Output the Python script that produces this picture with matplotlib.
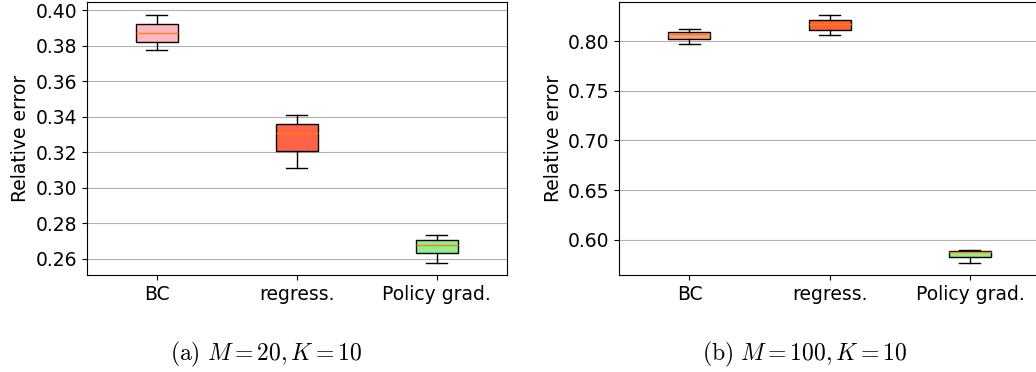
import matplotlib
matplotlib.use("Agg")
import matplotlib.pyplot as plt

methods = ["BC", "regress.", "Policy grad."]

# panel (a): M = 20, K = 10
a_lo = [0.3775, 0.3109, 0.2578]
a_q1 = [0.3822, 0.3209, 0.2632]
a_med = [0.3875, 0.3310, 0.2679]
a_q3 = [0.3923, 0.3357, 0.2707]
a_hi = [0.3976, 0.3410, 0.2733]
a_colors = ["#FFB6C1", "#FF6347", "#90EE90"]
a_ticks = [0.26, 0.28, 0.30, 0.32, 0.34, 0.36, 0.38, 0.40]

# panel (b): M = 100, K = 10
b_lo = [0.7974, 0.8060, 0.5770]
b_q1 = [0.8024, 0.8114, 0.5830]
b_med = [0.8067, 0.8168, 0.5872]
b_q3 = [0.8094, 0.8208, 0.5883]
b_hi = [0.8124, 0.8265, 0.5896]
b_colors = ["#FFA07A", "#FF6233", "#90EE90"]
b_ticks = [0.60, 0.65, 0.70, 0.75, 0.80]

captions = [r"$\mathrm{(a)}\ M = 20, K = 10$", r"$\mathrm{(b)}\ M = 100, K = 10$"]

plt.rcParams["font.size"] = 13.5
plt.rcParams["mathtext.fontset"] = "cm"


def make_stats(lo, q1, med, q3, hi):
    return [dict(whislo=lo[i], q1=q1[i], med=med[i], q3=q3[i], whishi=hi[i],
                 fliers=[], label=methods[i]) for i in range(len(methods))]


def draw_panel(ax, stats, colors, ticks):
    bp = ax.bxp(stats, widths=0.3, patch_artist=True, showfliers=False)
    for box, c in zip(bp["boxes"], colors):
        box.set_facecolor(c)
        box.set_edgecolor("black")
    for m in bp["medians"]:
        m.set_color("#ff7f0e")
    ax.set_yticks(ticks)
    ax.yaxis.grid(True, color="#b0b0b0", linewidth=0.8)
    ax.set_axisbelow(True)
    ax.set_ylabel("Relative error")


fig = plt.figure(figsize=(10.36, 3.72), dpi=100)
ax1 = fig.add_axes([0.0837, 0.2608, 0.4054, 0.733])
ax2 = fig.add_axes([0.5978, 0.2608, 0.4061, 0.733])

draw_panel(ax1, make_stats(a_lo, a_q1, a_med, a_q3, a_hi), a_colors, a_ticks)
draw_panel(ax2, make_stats(b_lo, b_q1, b_med, b_q3, b_hi), b_colors, b_ticks)

fig.text(0.257, 0.046, captions[0], ha="center", va="center", fontsize=17)
fig.text(0.777, 0.046, captions[1], ha="center", va="center", fontsize=17)

fig.savefig("out.png", dpi=100)
